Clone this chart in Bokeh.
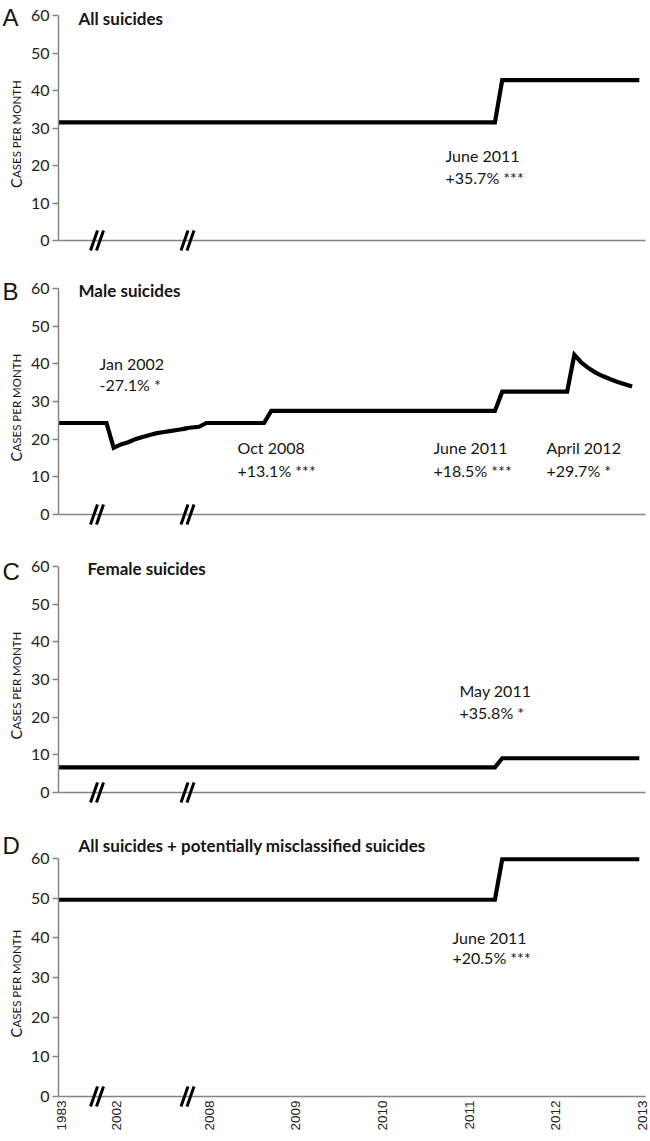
import numpy as np
from bokeh.plotting import figure
from bokeh.layouts import column
from bokeh.models import Range1d, FixedTicker, Label, Arrow, LinearAxis
from bokeh.embed import file_html
from bokeh.resources import INLINE

# ---------------- data ----------------
TICK_YEARS = [1983, 2002, 2008, 2009, 2010, 2011, 2012, 2013]
TICK_LABELS = ["1983", "2002", "2008", "2009", "2010", "2011", "2012", "2013"]

all_t = [1983.0, 2011.333, 2011.417, 2013.0]
all_v = [31.5, 31.5, 42.75, 42.75]

male_t = [1983.0, 2001.917, 2002.0, 2002.083, 2002.167, 2002.25, 2002.333, 2002.417,
          2002.5, 2002.583, 2002.667, 2002.75, 2002.83,
          2007.76, 2007.833, 2007.917, 2008.0, 2008.667, 2008.75, 2011.333, 2011.417,
          2012.167, 2012.25, 2012.333, 2012.417, 2012.5, 2012.583, 2012.667,
          2012.75, 2012.833, 2012.917]
male_v = [24.3, 24.3, 17.7, 18.6, 19.2, 20.0, 20.6, 21.1,
          21.6, 21.9, 22.2, 22.5, 22.8,
          22.9, 23.1, 23.3, 24.3, 24.3, 27.5, 27.5, 32.6,
          32.6, 42.4, 40.3, 38.8, 37.6, 36.7, 35.9,
          35.2, 34.6, 34.0]

female_t = [1983.0, 2011.333, 2011.417, 2013.0]
female_v = [6.7, 6.7, 9.1, 9.1]

misc_t = [1983.0, 2011.333, 2011.417, 2013.0]
misc_v = [49.6, 49.6, 59.8, 59.8]

PANEL_LETTERS = ["A", "B", "C", "D"]
PANEL_TITLES = ["All suicides", "Male suicides", "Female suicides",
                "All suicides + potentially misclassified suicides"]
ANNOT_A = [("June 2011", "+35.7% ***")]
ANNOT_B = [("Jan 2002", "-27.1% *"), ("Oct 2008", "+13.1% ***"),
           ("June 2011", "+18.5% ***"), ("April 2012", "+29.7% *")]
ANNOT_C = [("May 2011", "+35.8% *")]
ANNOT_D = [("June 2011", "+20.5% ***")]
Y_LABEL_FIRST = "C"
Y_LABEL_REST = "ASES PER MONTH"
Y_TICKS = [0, 10, 20, 30, 40, 50, 60]

# ---------------- broken time scale (1 unit = 1 px, 0 = y axis) ----------------
BREAK_YEARS = [1983.0, 2001.79, 2002.83, 2007.76, 2013.0]
BREAK_POS = [0.0, 37.0, 127.0, 127.0, 580.8]
BREAK_MARKS = [38.5, 129.0]
LABEL_SHIFT = 3.0


def to_u(t):
    return np.interp(np.asarray(t, dtype=float), BREAK_YEARS, BREAK_POS)


FONT = "Lato"
AXIS_GRAY = "#858585"
TXT = "#151515"
X0, X1 = -58, 592
AXIS_END = 587


def make_panel(t, v, letter, title, annots, annot_pos, height, y0, y1,
               letter_y, title_pos, show_x):
    scale = height / (y1 - y0)
    p = figure(width=X1 - X0, height=height, output_backend="svg", toolbar_location=None,
               x_range=Range1d(X0, X1), y_range=Range1d(y0, y1),
               x_axis_location=None, y_axis_location=None,
               min_border_left=0, min_border_right=0,
               min_border_top=0, min_border_bottom=0)
    p.outline_line_color = None
    p.grid.visible = False
    p.background_fill_color = "white"
    p.border_fill_color = "white"

    p.line(to_u(t), v, line_width=4.2, line_color="black", line_join="miter")

    # y axis, fixed at x = 0
    ya = LinearAxis(fixed_location=0, bounds=(0, 60),
                    ticker=FixedTicker(ticks=Y_TICKS))
    ya.major_tick_out = 6
    ya.major_tick_in = 0
    ya.minor_tick_out = 0
    ya.minor_tick_in = 0
    ya.axis_line_color = AXIS_GRAY
    ya.axis_line_width = 1.5
    ya.major_tick_line_color = AXIS_GRAY
    ya.major_tick_line_width = 1.5
    ya.major_label_text_font = FONT
    ya.major_label_text_font_size = "16px"
    ya.major_label_text_color = "#222222"
    ya.major_label_standoff = 3
    p.add_layout(ya, "left")

    # x axis, fixed at y = 0
    xa = LinearAxis(fixed_location=0, bounds=(0, AXIS_END))
    xa.axis_line_color = AXIS_GRAY
    xa.axis_line_width = 1.5
    xa.major_tick_out = 0
    xa.major_tick_in = 0
    xa.minor_tick_out = 0
    xa.minor_tick_in = 0
    if show_x:
        ticks = [round(float(x) + LABEL_SHIFT, 2) for x in to_u(TICK_YEARS)]
        xa.ticker = FixedTicker(ticks=ticks)
        xa.major_label_overrides = {tk: lb for tk, lb in zip(ticks, TICK_LABELS)}
        xa.major_label_orientation = np.pi / 2
        xa.major_label_text_font = "Liberation Sans"
        xa.major_label_text_font_size = "13.5px"
        xa.major_label_text_color = "#222222"
        xa.major_label_standoff = 4
    else:
        xa.ticker = FixedTicker(ticks=[])
        xa.major_label_text_font_size = "0px"
    p.add_layout(xa, "below")

    # axis break marks
    dy = 10.0 / scale
    for c in BREAK_MARKS:
        for off in (-3.0, 3.0):
            p.add_layout(Arrow(x_start=c + off - 3.5, y_start=-dy,
                               x_end=c + off + 3.5, y_end=dy,
                               start=None, end=None,
                               line_width=3, line_color="black"))

    # panel letter
    p.add_layout(Label(x=X0 + 2, y=letter_y, text=letter, text_font="Liberation Sans",
                       text_font_size="24px", text_baseline="middle",
                       text_align="left", text_color=TXT))
    # y axis title in small caps
    c_w = 10.0
    start = 30 - 60.0 / scale
    p.add_layout(Label(x=X0 + 15.5, y=start, text=Y_LABEL_FIRST, angle=np.pi / 2,
                       text_font=FONT, text_font_size="14.5px",
                       text_align="left", text_baseline="alphabetic", text_color=TXT))
    p.add_layout(Label(x=X0 + 15.5, y=start + c_w / scale, text=Y_LABEL_REST,
                       angle=np.pi / 2, text_font=FONT, text_font_size="11.5px",
                       text_align="left", text_baseline="alphabetic", text_color=TXT))
    # panel title
    p.add_layout(Label(x=title_pos[0], y=title_pos[1], text=title, text_font=FONT,
                       text_font_size="17px", text_font_style="bold",
                       text_baseline="middle", text_align="left", text_color=TXT))
    # intervention annotations
    for (l1, l2), (ax, ay1, ay2) in zip(annots, annot_pos):
        for txt, yy in ((l1, ay1), (l2, ay2)):
            p.add_layout(Label(x=ax, y=yy, text=txt, text_font=FONT,
                               text_font_size="16px", text_baseline="middle",
                               text_align="left", text_color=TXT))
    return p


pA = make_panel(all_t, all_v, PANEL_LETTERS[0], PANEL_TITLES[0], ANNOT_A,
                [(387, 22.7, 16.8)],
                270, -8.0, 64.0, 59.6, (20, 59.2), False)
pB = make_panel(male_t, male_v, PANEL_LETTERS[1], PANEL_TITLES[1], ANNOT_B,
                [(41, 40.0, 34.5), (179, 17.8, 11.7), (375, 17.8, 11.7),
                 (488, 17.8, 11.7)],
                278, -9.02, 64.78, 59.2, (20, 59.5), False)
pC = make_panel(female_t, female_v, PANEL_LETTERS[2], PANEL_TITLES[2], ANNOT_C,
                [(401, 27.1, 21.2)],
                278, -9.02, 64.78, 58.7, (29, 59.5), False)
pD = make_panel(misc_t, misc_v, PANEL_LETTERS[3], PANEL_TITLES[3], ANNOT_D,
                [(394, 40.1, 35.0)],
                314, -11.09, 68.06, 63.3, (20, 63.3), True)

layout = column(pA, pB, pC, pD)
open("out.html", "w").write(file_html(layout, INLINE))
